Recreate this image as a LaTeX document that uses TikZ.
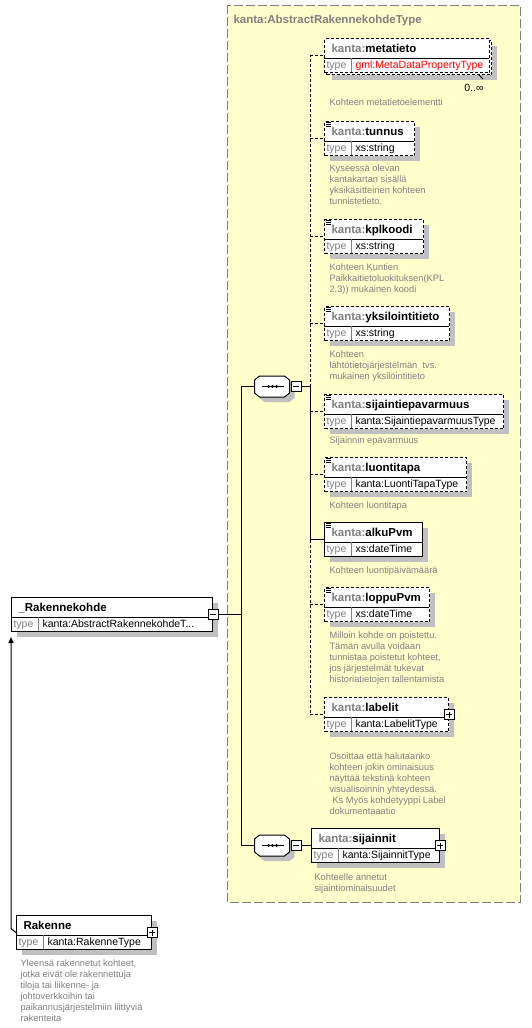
\documentclass[tikz,border=0pt]{standalone}
\usepackage{fontspec}
\setmainfont{Liberation Sans}
\usetikzlibrary{shadows,arrows.meta}

\definecolor{keltainen}{RGB}{255,255,204}
\definecolor{harmaa}{RGB}{128,128,128}
\definecolor{varjo}{RGB}{192,192,192}

\newcommand{\kanta}{\textcolor{harmaa}{kanta:}}

\tikzset{
  elbox/.style={draw, fill=white, minimum height=34pt, inner sep=0pt, anchor=north west},
  varjostus/.style={drop shadow={shadow xshift=5pt, shadow yshift=-5pt, fill=varjo, opacity=1}},
  katko/.style={dash pattern=on 3pt off 2pt},
  otsikko/.style={anchor=base west, inner sep=0pt, text=harmaa, font=\bfseries\fontsize{11.5}{13}\selectfont},
  nimi/.style={anchor=base west, inner sep=0pt, font=\bfseries\fontsize{11.5}{13}\selectfont},
  tyyppi/.style={anchor=base west, inner sep=0pt, text=harmaa, font=\fontsize{10.5}{12}\selectfont},
  arvo/.style={anchor=base west, inner sep=0pt, font=\fontsize{10.5}{12}\selectfont},
  selite/.style={anchor=north west, inner sep=0pt, align=left, text=harmaa, font=\fontsize{9.3}{11}\selectfont},
  merkki/.style={draw, fill=white, minimum size=10pt, inner sep=0pt},
  miinus/.style={merkki, path picture={\draw ([xshift=2pt]path picture bounding box.west) -- ([xshift=-2pt]path picture bounding box.east);}},
  plus/.style={merkki, path picture={\draw ([xshift=2pt]path picture bounding box.west) -- ([xshift=-2pt]path picture bounding box.east)
      ([yshift=-2pt]path picture bounding box.north) -- ([yshift=2pt]path picture bounding box.south);}},
  jakso/.style={minimum width=35pt, minimum height=21pt, inner sep=0pt}
}

% elementti: [tyyli] nimi, paikka, leveys, otsikko, tyyppi
\newcommand{\elementti}[6][katko,varjostus]{%
  \node[elbox,#1,minimum width=#4pt] (#2) at (#3) {};
  \draw (#2.north west) ++(0,20) -- ++(#4,0);
  \draw[harmaa] (#2.north west) ++(27,20) -- ++(0,14);
  \path (#2.north west) ++(7,14) node[nimi] {#5};
  \path (#2.north west) ++(2,30) node[tyyppi] {type};
  \path (#2.north west) ++(31,30) node[arvo] {#6};
}

\begin{document}
\begin{tikzpicture}[x=1pt,y=-1pt,line width=1pt]
\useasboundingbox (0,0) rectangle (531,1028);

% tyyppi
\fill[keltainen] (227,5) rectangle (520,902);
\draw[harmaa, dash pattern=on 9pt off 3pt] (227,5) rectangle (520,902);
\node[otsikko] (tyyppinimi) at (233,23) {kanta:AbstractRakennekohdeType};

% elementit
\node[elbox,katko,varjostus,minimum width=165pt] (metatietotaka) at (326,40) {};
\elementti[katko]{metatieto}{324,38}{165}{\kanta metatieto}{\textcolor{red}{gml:MetaDataPropertyType}}
\draw ([xshift=-13pt]metatietotaka.south east) -- ++(4,4);
\node[arvo, anchor=base east] (maara) at (484,91) {0..∞};
\elementti{tunnus}{324,121}{90}{\kanta tunnus}{xs:string}
\elementti{kplkoodi}{324,219}{99}{\kanta kplkoodi}{xs:string}
\elementti{yksilointitieto}{324,306}{125}{\kanta yksilointitieto}{xs:string}
\elementti{sijaintiepavarmuus}{324,394}{179}{\kanta sijaintiepavarmuus}{kanta:SijaintiepavarmuusType}
\elementti{luontitapa}{324,457}{142}{\kanta luontitapa}{kanta:LuontiTapaType}
\elementti[varjostus]{alkupvm}{324,522}{98}{\kanta alkuPvm}{xs:dateTime}
\elementti{loppupvm}{324,587}{105}{\kanta loppuPvm}{xs:dateTime}
\elementti{labelit}{324,697}{124}{\kanta labelit}{kanta:LabelitType}
\elementti[varjostus]{sijainnit}{311,828}{128}{\kanta sijainnit}{kanta:SijainnitType}
\elementti[varjostus]{rakennekohde}{11,597}{201}{\_Rakennekohde}{kanta:AbstractRakennekohdeT...}
\elementti[varjostus]{rakenne}{16,915}{135}{Rakenne}{kanta:RakenneType}

\foreach \e in {tunnus,kplkoodi,yksilointitieto,sijaintiepavarmuus,luontitapa,alkupvm,loppupvm}
  {\foreach \k in {1.5,3.5,5.5} \draw[line width=0.8pt] (\e.north west) ++(1.5,\k) -- ++(5,0);}

\node[miinus] (rakennekohdemiinus) at (rakennekohde.east) {};
\node[plus] (labelitplus) at (labelit.east) {};
\node[plus] (sijainnitplus) at (sijainnit.east) {};
\node[plus] (rakenneplus) at (rakenne.east) {};

% selitteet
\node[selite] (metatietoselite) at (329,98) {Kohteen metatietoelementti};
\node[selite] (tunnusselite) at (329,164) {Kyseessä olevan\\kantakartan sisällä\\yksikäsitteinen kohteen\\tunnistetieto.};
\node[selite] (kplkoodiselite) at (329,263) {Kohteen Kuntien\\Paikkaitietoluokituksen(KPL\\2.3)) mukainen koodi};
\node[selite] (yksilointitietoselite) at (329,350) {Kohteen\\lähtötietojärjestelmän\ \ tvs.\\mukainen yksilöintitieto};
\node[selite] (sijaintiepavarmuusselite) at (329,436) {Sijainnin epävarmuus};
\node[selite] (luontitapaselite) at (329,501) {Kohteen luontitapa};
\node[selite] (alkupvmselite) at (329,566) {Kohteen luontipäivämäärä};
\node[selite] (loppupvmselite) at (329,631) {Milloin kohde on poistettu.\\Tämän avulla voidaan\\tunnistaa poistetut kohteet,\\jos järjestelmät tukevat\\historiatietojen tallentamista};
\node[selite] (labelitselite) at (329,752) {Osoittaa että halutaanko\\kohteen jokin ominaisuus\\näyttää tekstinä kohteen\\visualisoinnin yhteydessä.\\\hspace*{3pt}Ks Myös kohdetyyppi Label\\dokumentaaatio};
\node[selite] (sijainnitselite) at (314,873) {Kohteelle annetut\\sijaintiominaisuudet};
\node[selite] (rakenneselite) at (20,959) {Yleensä rakennetut kohteet,\\jotka eivät ole rakennettuja\\tiloja tai liikenne- ja\\johtoverkkoihin tai\\paikannusjärjestelmiin liittyviä\\rakenteita};

% sekvenssit
\node[jakso] (seqa) at (272.5,386.5) {};
\node[jakso] (seqb) at (272.5,845.5) {};
\foreach \s in {seqa,seqb} {
  \fill[varjo] ([xshift=5pt,yshift=-5pt]\s.west) ++(0,-6.5) -- ++(5,-4) -- ++(25,0) -- ++(5,4) -- ++(0,13) -- ++(-5,4) -- ++(-25,0) -- ++(-5,-4) -- cycle;
  \draw[fill=white] (\s.west) ++(0,-6.5) -- ++(5,-4) -- ++(25,0) -- ++(5,4) -- ++(0,13) -- ++(-5,4) -- ++(-25,0) -- ++(-5,-4) -- cycle;
  \draw ([xshift=-11pt]\s.center) -- ([xshift=11pt]\s.center);
  \foreach \d in {-4,0,4} \fill ([xshift=\d pt]\s.center) circle (1.6pt);
}
\node[miinus, anchor=west] (seqamiinus) at (seqa.east) {};
\node[miinus, anchor=west] (seqbmiinus) at (seqb.east) {};

% yhteydet
\coordinate (runko) at (310,386.5);
\coordinate (haara) at (241,386.5);
\draw (seqamiinus.east) -- (runko);
\draw[katko] (runko) -- (runko |- metatieto.west);
\draw (runko) -- (runko |- alkupvm.west) -- (alkupvm.west);
\draw[katko] (runko |- alkupvm.west) -- (runko |- labelit.west);
\foreach \e in {metatieto,tunnus,kplkoodi,yksilointitieto,sijaintiepavarmuus,luontitapa,loppupvm,labelit}
  \draw[katko] (runko |- \e.west) -- (\e.west);
\draw (haara) -- (seqa.west);
\draw (haara) |- (seqb.west);
\draw (rakennekohdemiinus.east) -- (rakennekohdemiinus.east -| haara);
\draw (seqbmiinus.east) -- (seqbmiinus.east -| sijainnit.west);

% perinta
\draw[-{Triangle[length=6pt,width=5pt]}, shorten >=5pt] (rakenne.west) -- ++(-5,-4) -- (rakennekohde.south west);
\end{tikzpicture}
\end{document}
